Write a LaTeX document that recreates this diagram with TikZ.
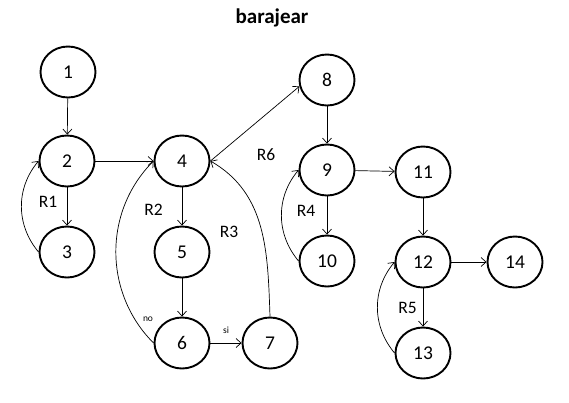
\documentclass[tikz,border=0pt]{standalone}
\usepackage{fontspec}
\setmainfont{Carlito}
\usetikzlibrary{shapes.geometric,arrows.meta}
\begin{document}
\begin{tikzpicture}[x=1pt,y=1pt,
  vtx/.style={ellipse,draw,line width=1.9pt,minimum width=55pt,minimum height=51pt,inner sep=0pt,font=\fontsize{19.5}{22}\selectfont},
  lbl/.style={inner sep=0pt,font=\fontsize{17.5}{20}\selectfont},
  small/.style={inner sep=0pt,font=\fontsize{9.5}{11}\selectfont},
  edge/.style={line width=0.7pt,-{Straight Barb[length=5pt,width=9pt]}}]
\useasboundingbox (0,0) rectangle (569,-402);
\node[inner sep=0pt,font=\fontsize{21}{25}\selectfont\bfseries] (title) at (272,-18) {barajear};
\node[vtx] (n1) at (68,-72) {1};
\node[vtx] (n2) at (67,-161) {2};
\node[vtx] (n3) at (67,-252) {3};
\node[vtx] (n4) at (182,-161) {4};
\node[vtx] (n5) at (182,-252) {5};
\node[vtx] (n6) at (182,-343) {6};
\node[vtx] (n7) at (270,-343) {7};
\node[vtx] (n8) at (327,-80) {8};
\node[vtx] (n9) at (327,-170) {9};
\node[vtx] (n10) at (327,-261) {10};
\node[vtx] (n11) at (423,-172) {11};
\node[vtx] (n12) at (423,-262) {12};
\node[vtx] (n13) at (423,-353) {13};
\node[vtx] (n14) at (515,-262) {14};
\node[lbl] (r1) at (48,-202) {R1};
\node[lbl] (r2) at (153.5,-210) {R2};
\node[lbl] (r3) at (229,-232) {R3};
\node[lbl] (r6) at (266,-155) {R6};
\node[lbl] (r4) at (306,-211) {R4};
\node[lbl] (r5) at (407.5,-307.5) {R5};
\node[small] (no) at (148,-319) {no};
\node[small] (si) at (226,-330.5) {si};
\draw[edge] (n1) -- (n2);
\draw[edge] (n2) -- (n3);
\draw[edge] (n3.west) to[out=130,in=230] (n2.west);
\draw[edge] (n2) -- (n4);
\draw[edge] (n4) -- (n5);
\draw[edge] (n5) -- (n6);
\draw[edge] (n6.west) to[out=135,in=225] (n4.west);
\draw[edge] (n6) -- (n7);
\draw[edge] (n7.north) to[out=92,in=-30] (n4.east);
\draw[edge] (n4.east) -- (n8.193);
\draw[edge] (n8) -- (n9);
\draw[edge] (n9) -- (n10);
\draw[edge] (n10.west) to[out=130,in=230] (n9.west);
\draw[edge] (n9) -- (n11);
\draw[edge] (n11) -- (n12);
\draw[edge] (n12) -- (n14);
\draw[edge] (n12) -- (n13);
\draw[edge] (n13.west) to[out=130,in=230] (n12.west);
\end{tikzpicture}
\end{document}
